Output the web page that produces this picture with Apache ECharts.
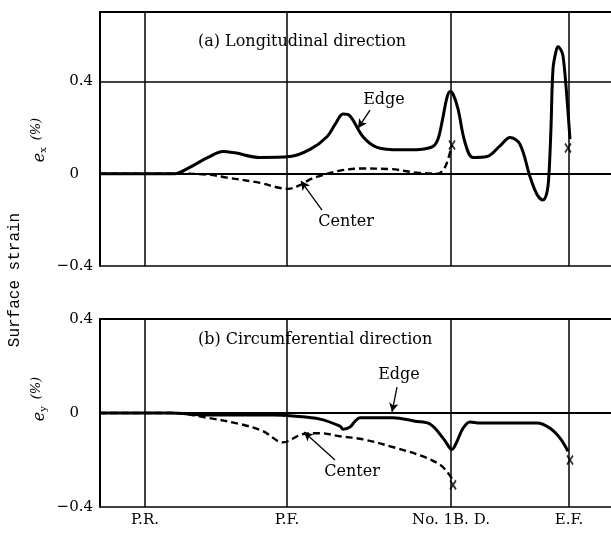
<!DOCTYPE html>
<html><head><meta charset="utf-8">
<script src="https://cdn.jsdelivr.net/npm/echarts@6/dist/echarts.min.js"></script>
<style>html,body{margin:0;padding:0;background:#fff}#c{width:611px;height:534px}</style>
</head><body><div id="c"></div>
<script>
// Stations along the roll line (x position units)
const stations = ['P.R.', 'P.F.', 'No. 1B. D.', 'E.F.'];
const stationPos = [45, 187, 351, 469];
const yTicks = [-0.4, 0, 0.4];

// (a) Longitudinal direction - Edge
const longEdgeX = [0, 75, 80, 93, 108, 123, 135, 160, 190, 210, 227, 236, 243, 250, 263, 277, 300, 320, 333, 338, 342, 347, 350, 353, 358, 365, 373, 387, 400, 410, 420, 430, 437, 443, 447, 449, 451, 453, 456, 458, 461, 463, 466, 470];
const longEdgeY = [0, 0, 0.005, 0.035, 0.07, 0.096, 0.09, 0.07, 0.074, 0.105, 0.16, 0.22, 0.258, 0.25, 0.16, 0.114, 0.103, 0.105, 0.118, 0.15, 0.223, 0.33, 0.356, 0.345, 0.28, 0.135, 0.07, 0.074, 0.12, 0.157, 0.127, -0.013, -0.09, -0.114, -0.08, 0.0, 0.2, 0.454, 0.53, 0.55, 0.535, 0.51, 0.38, 0.149];
// (a) Longitudinal direction - Center
const longCenterX = [0, 77, 110, 127, 160, 178, 188, 200, 210, 220, 240, 260, 290, 317, 338, 343, 347, 352];
const longCenterY = [0, 0, -0.005, -0.017, -0.04, -0.06, -0.066, -0.05, -0.025, -0.01, 0.013, 0.022, 0.02, 0.004, 0.0, 0.015, 0.048, 0.124];
// (b) Circumferential direction - Edge
const circEdgeX = [0, 70, 107, 173, 193, 220, 240, 243, 250, 255, 260, 293, 315, 330, 343, 350, 352, 356, 363, 370, 380, 437, 450, 460, 468];
const circEdgeY = [0, 0, -0.009, -0.009, -0.013, -0.026, -0.056, -0.069, -0.06, -0.035, -0.02, -0.02, -0.035, -0.047, -0.107, -0.15, -0.155, -0.13, -0.065, -0.038, -0.043, -0.043, -0.065, -0.107, -0.163];
// (b) Circumferential direction - Center
const circCenterX = [0, 73, 107, 140, 163, 183, 203, 220, 240, 263, 297, 323, 340, 347, 352];
const circCenterY = [0, 0, -0.02, -0.047, -0.077, -0.125, -0.09, -0.086, -0.099, -0.112, -0.15, -0.185, -0.22, -0.25, -0.28];
// Fracture points (x marks)
const longFracX = [352, 468];
const longFracY = [0.124, 0.111];
const circFracX = [353, 470];
const circFracY = [-0.306, -0.2];

const zip = (xs, ys) => xs.map((x, i) => [x, ys[i]]);
const SERIF = 'DejaVu Serif';

const yLabelFmt = v => {
  if (Math.abs(v - 0.4) < 1e-9) return '0.4';
  if (Math.abs(v) < 1e-9) return '{z|0}';
  if (Math.abs(v + 0.4) < 1e-9) return '\u22120.4';
  return '';
};

function xAxisFor(grid, showLabels) {
  return {
    gridIndex: grid, type: 'value', min: 0, max: 511,
    axisLine: { show: true, lineStyle: { color: '#000', width: 2 } },
    axisTick: { show: false, customValues: stationPos },
    axisLabel: {
      show: showLabels, customValues: stationPos, margin: 6,
      formatter: v => stations[stationPos.indexOf(v)] || '',
      fontFamily: SERIF, fontSize: 15, color: '#000'
    },
    splitLine: { show: true, lineStyle: { color: '#000', width: 1.5 } }
  };
}
function topBorder(grid) {
  return {
    gridIndex: grid, type: 'value', min: 0, max: 511, position: 'top',
    axisLine: { show: true, lineStyle: { color: '#000', width: 2 } },
    axisTick: { show: false }, axisLabel: { show: false }, splitLine: { show: false }
  };
}
function yAxisFor(grid, max) {
  return {
    gridIndex: grid, type: 'value', min: -0.4, max: max, interval: 0.4,
    axisLine: { show: true, lineStyle: { color: '#000', width: 2 } },
    axisTick: { show: false },
    axisLabel: {
      formatter: yLabelFmt, margin: 7, fontFamily: SERIF, fontSize: 15, color: '#000',
      rich: { z: { fontFamily: SERIF, fontSize: 15, color: '#000', padding: [0, 14, 0, 0] } }
    },
    splitLine: { show: true, lineStyle: { color: '#000', width: 1.5 } }
  };
}

const solid = { color: '#000', width: 3 };
const dashed = { color: '#000', width: 2.4, type: [7, 4] };
const arrowLine = (from, to) => [{ coord: from }, { coord: to }];
const textPt = (c, t) => ({ coord: c, value: t });

function curve(xi, yi, xs, ys, style, annText, annPos, arrFrom, arrTo) {
  return {
    type: 'line', xAxisIndex: xi, yAxisIndex: yi, data: zip(xs, ys),
    smooth: 0.35, showSymbol: false, symbol: 'none', lineStyle: style,
    markLine: {
      silent: true, symbol: ['none', 'arrow'], symbolSize: [7, 9],
      label: { show: false }, lineStyle: { color: '#000', width: 1.3, type: 'solid' },
      data: [arrowLine(arrFrom, arrTo)]
    },
    markPoint: {
      silent: true, symbol: 'circle', symbolSize: 0,
      label: { show: true, position: 'inside', formatter: p => p.value, fontFamily: SERIF, fontSize: 16, color: '#000' },
      data: [textPt(annPos, annText)]
    }
  };
}
const xMark = (xi, yi, xs, ys) => ({
  type: 'scatter', xAxisIndex: xi, yAxisIndex: yi, data: zip(xs, ys),
  symbol: 'path://M0,0L10,15M10,0L0,15', symbolSize: [6, 9], symbolKeepAspect: false,
  itemStyle: { color: 'rgba(0,0,0,0)', borderColor: '#000', borderWidth: 2 }
});

const labelRich = {
  e: { fontFamily: SERIF, fontStyle: 'italic', fontSize: 16 },
  s: { fontFamily: SERIF, fontSize: 10, padding: [7, 0, 0, 0] },
  p: { fontFamily: SERIF, fontStyle: 'italic', fontSize: 13, padding: [0, 0, 7, 0] }
};

const option = {
  animation: false,
  backgroundColor: '#fff',
  grid: [
    { left: 100, right: 0, top: 12, height: 254 },
    { left: 100, right: 0, top: 319, height: 188 }
  ],
  title: [
    { text: '(a) Longitudinal direction', left: 193, top: 29, textStyle: { fontFamily: SERIF, fontSize: 16, fontWeight: 'normal', color: '#000' } },
    { text: '(b) Circumferential direction', left: 193, top: 327, textStyle: { fontFamily: SERIF, fontSize: 16, fontWeight: 'normal', color: '#000' } }
  ],
  xAxis: [xAxisFor(0, false), xAxisFor(1, true), topBorder(0), topBorder(1)],
  yAxis: [yAxisFor(0, 0.7), yAxisFor(1, 0.4)],
  graphic: [
    { type: 'text', x: 15, y: 280, rotation: Math.PI / 2, style: { text: 'Surface strain', font: '16px "Liberation Mono"', fill: '#000', align: 'center', verticalAlign: 'middle' } },
    { type: 'text', x: 40, y: 140, rotation: Math.PI / 2, style: { text: '{e|e}{s|x}  {p|(%)}', align: 'center', verticalAlign: 'middle', fill: '#000', rich: labelRich } },
    { type: 'text', x: 40, y: 399, rotation: Math.PI / 2, style: { text: '{e|e}{s|y}  {p|(%)}', align: 'center', verticalAlign: 'middle', fill: '#000', rich: labelRich } }
  ],
  series: [
    curve(0, 0, longEdgeX, longEdgeY, solid, 'Edge', [284, 0.319], [270, 0.275], [258, 0.197]),
    curve(0, 0, longCenterX, longCenterY, dashed, 'Center', [246, -0.21], [222, -0.158], [201, -0.032]),
    curve(1, 1, circEdgeX, circEdgeY, solid, 'Edge', [299, 0.162], [297, 0.11], [292, 0.004]),
    curve(1, 1, circCenterX, circCenterY, dashed, 'Center', [252, -0.251], [235, -0.2], [204, -0.081]),
    xMark(0, 0, longFracX, longFracY),
    xMark(1, 1, circFracX, circFracY)
  ]
};
const chart = echarts.init(document.getElementById('c'), null, { renderer: 'canvas' });
chart.setOption(option);
</script></body></html>
